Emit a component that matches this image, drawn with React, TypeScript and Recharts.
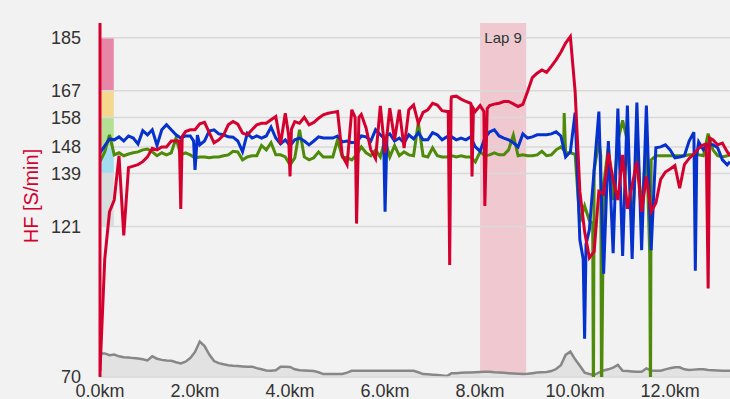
import React from "react";
import {
  ComposedChart,
  Line,
  Area,
  XAxis,
  YAxis,
  ReferenceArea,
  ReferenceLine,
  Label,
} from "recharts";

// Distance in km (regular sampling)
const km = [
  0.0, 0.1, 0.2, 0.3, 0.4, 0.5, 0.6, 0.7, 0.8, 0.9,
  1.0, 1.1, 1.2, 1.3, 1.4, 1.5, 1.6, 1.7, 1.8, 1.9,
  2.0, 2.1, 2.2, 2.3, 2.4, 2.5, 2.6, 2.7, 2.8, 2.9,
  3.0, 3.1, 3.2, 3.3, 3.4, 3.5, 3.6, 3.7, 3.8, 3.9,
  4.0, 4.1, 4.2, 4.3, 4.4, 4.5, 4.6, 4.7, 4.8, 4.9,
  5.0, 5.1, 5.2, 5.3, 5.4, 5.5, 5.6, 5.7, 5.8, 5.9,
  6.0, 6.1, 6.2, 6.3, 6.4, 6.5, 6.6, 6.7, 6.8, 6.9,
  7.0, 7.1, 7.2, 7.3, 7.4, 7.5, 7.6, 7.7, 7.8, 7.9,
  8.0, 8.1, 8.2, 8.3, 8.4, 8.5, 8.6, 8.7, 8.8, 8.9,
  9.0, 9.1, 9.2, 9.3, 9.4, 9.5, 9.6, 9.7, 9.8, 9.9,
  10.0, 10.1, 10.2, 10.3, 10.4, 10.5, 10.6, 10.7, 10.8, 10.9,
  11.0, 11.1, 11.2, 11.3, 11.4, 11.5, 11.6, 11.7, 11.8, 11.9,
  12.0, 12.1, 12.2, 12.3, 12.4, 12.5, 12.6, 12.7, 12.8, 12.9,
  13.0, 13.1, 13.2, 13.26,
];

// Heart rate (red), one value per km sample
const hfValues = [
  72, 110, 126, 130, 145, 118, 141, 141.5, 142, 143,
  144.6, 147.5, 147, 148, 148, 150, 150, 127, 153.2, 153.8,
  153.8, 155.8, 156.3, 152.8, 149.4, 150.4, 152, 155.5, 156.6, 155.7,
  152.7, 152.1, 153.8, 155.5, 156, 156, 157.2, 158.3, 149, 159.4,
  138, 156.6, 156, 158, 155.5, 156.3, 157.7, 158.9, 159.4, 159.7,
  160, 145, 142, 160.6, 122, 159, 154.4, 147, 144, 161.9,
  146, 161.1, 150.4, 160.6, 147.6, 160.6, 162.2, 156, 159.7, 160.6,
  162.8, 162.2, 160.3, 160, 165, 165.2, 164.2, 163.4, 162.8, 160,
  162, 128, 162, 162.5, 162.8, 163.4, 163.4, 162.6, 161.7, 162.4,
  166.8, 171.5, 173, 174.1, 173.3, 175.3, 177.5, 180.1, 183.2, 185.4,
  166.8, 132.9, 119.3, 110.4, 112.5, 132.9, 132, 146, 136.8, 130,
  145.3, 127, 135, 143, 126, 138, 126, 129, 137, 139.5,
  140.5, 141.7, 134, 142, 144.1, 145.6, 147.5, 148.7, 100, 150.4,
  148.7, 149.3, 146.4, 145,
];
// Extra heart-rate samples around narrow dips
const hfExtraKm = [1.67, 1.73, 3.97, 4.03, 5.37, 5.45, 7.33, 7.36, 7.39, 7.81, 7.83, 7.86, 8.08, 8.15, 12.76, 12.83];
const hfExtraValues = [150, 151.5, 152, 154, 158, 158, 160, 108, 164, 162.5, 138, 161, 160, 161, 149, 151];

// Blue series
const blueValues = [
  146, 148.4, 150.7, 150.4, 151.4, 150, 151.7, 151, 149, 153.5,
  152.1, 153.8, 148.5, 153.8, 155.5, 153.8, 152.1, 151, 151.7, 151.7,
  140.2, 148.7, 150, 153.4, 153.8, 152.4, 152.1, 151.4, 151.3, 150,
  146.4, 152.6, 151, 151.7, 151, 151.7, 154.7, 151, 149, 150.4,
  148.4, 150.4, 151, 150, 148.7, 150, 151.4, 151, 151, 151,
  151.7, 149.7, 150, 149.4, 149.7, 151.7, 151.4, 150, 153.8, 152.1,
  126, 152.4, 150, 151, 149.4, 152.1, 150.7, 152.8, 150.4, 150.4,
  152.8, 152.1, 150.4, 151.4, 151.4, 150.4, 151, 150.4, 151.4, 148,
  146.5, 151, 153.1, 153.8, 151.7, 151, 150.4, 149.4, 148, 152.4,
  151, 151.4, 152.1, 152.1, 152.1, 152.4, 153.1, 151.7, 144.6, 146.3,
  159.6, 116.5, 83, 119.9, 140, 160, 105, 150, 112, 161,
  111, 162, 110, 163, 113, 162, 113, 147.7, 148, 148.7,
  147, 144.3, 144.6, 145, 150, 153, 149.7, 147, 148.7, 148.7,
  147.7, 143.6, 141.9, 143,
];
const blueExtraKm = [1.97, 2.05, 5.97, 6.04, 10.17, 10.23, 12.53, 12.56];
const blueExtraValues = [150, 152, 151, 152, 110, 115, 106, 145];

// Green series
const greenValues = [
  143, 146.3, 152.1, 145.3, 146, 145, 145.6, 146, 146.3, 147,
  147.3, 146.3, 145, 146, 145.3, 146, 151, 145.3, 146, 145.3,
  144.3, 144.6, 144.6, 144.3, 144.6, 144.6, 145, 145.3, 146.5, 146.3,
  143.6, 144.6, 145, 145, 148.5, 147, 149.4, 145.3, 145.3, 144.6,
  141.9, 144.3, 153.8, 144.6, 143.6, 144.3, 146.3, 144.6, 144.6, 144.6,
  150.4, 144.6, 144.3, 143.6, 145.3, 148, 146, 145, 147, 144.6,
  150.4, 144.6, 148.4, 145, 146.3, 145.3, 145, 156.2, 145, 144.6,
  147.7, 145, 144.6, 144.6, 145, 144.6, 145, 144.6, 144.6, 142.9,
  146.3, 145, 145.3, 146, 145.3, 145.3, 147, 152, 145, 145.3,
  145, 145, 145.3, 146.5, 145, 145.3, 147, 148, 146, 146,
  145.5, 122.5, 128, 123, 140, 150, 135, 148, 130, 150,
  157, 150, 120, 150, 125, 150, 143.6, 145, 145, 145,
  145, 145, 145, 145, 145.3, 145.3, 145.3, 145, 152.5, 147,
  145, 144.6, 145, 145.3,
];
const greenExtraKm = [9.76, 9.77, 10.37, 10.385, 10.54, 10.555, 11.57, 11.587];
const greenExtraValues = [147, 159.5, 122, 60, 145, 60, 112, 60];

// Elevation (grey area, metres)
const elevation = [
  408, 408, 407.4, 407.6, 407, 406.7, 406.6, 406.4, 406.3, 406,
  405.6, 407, 406.2, 405.8, 405.6, 405.5, 405, 404.6, 405.2, 406.4,
  408.5, 412, 410.5, 407.6, 405.4, 404.7, 404.3, 404, 403.8, 403.7,
  403.6, 403.5, 403.5, 403, 402.6, 402.2, 402.1, 402.3, 403.5, 403.5,
  403.4, 402.6, 402.3, 402.2, 402.1, 402, 401.6, 401, 401, 401,
  401, 401, 401.5, 402.1, 402.1, 402.1, 402.1, 402.1, 402.1, 402.1,
  402.1, 402.1, 402.1, 402.1, 402.1, 402.1, 402.1, 401.6, 401, 400.9,
  400.8, 400.7, 400.5, 400.3, 401.3, 401.3, 401.4, 401.5, 401.5, 401.6,
  401.7, 401.8, 401.8, 401.6, 401.5, 401.4, 401.3, 401.2, 401.1, 401,
  401.1, 401.3, 401.5, 401.6, 401.7, 402, 402.7, 404, 407.5, 408.6,
  406, 403.8, 401.5, 401, 400.7, 401.5, 402.2, 402.6, 403.2, 404.1,
  402.1, 402, 401.9, 401.8, 401.8, 402.9, 402.2, 402.1, 402.1, 402.6,
  403, 403.3, 403.3, 402.6, 402.4, 402.5, 402.6, 402.6, 402.4, 402.3,
  402.2, 402.1, 402.1, 402.1,
];

const xTicks = [0, 2, 4, 6, 8, 10, 12];
const yTicks = [70, 121, 139, 148, 158, 167, 185];

// Heart-rate zones
const zoneLows = [167, 158, 148, 139, 121];
const zoneHighs = [185, 167, 158, 148, 139];
const zoneColors = ["#e886a8", "#f5d88c", "#b3e092", "#a2dcf0", "#d8dcdc"];

const lapStart = 8.0;
const lapEnd = 8.97;
const lapLabel = "Lap 9";

function series(values: number[], extraKm: number[] = [], extraValues: number[] = []) {
  const pts = km.map((k, i) => ({ km: k, v: values[i] }));
  extraKm.forEach((k, i) => pts.push({ km: k, v: extraValues[i] }));
  return pts.sort((a, b) => a.km - b.km);
}

const hfData = series(hfValues, hfExtraKm, hfExtraValues);
const blueData = series(blueValues, blueExtraKm, blueExtraValues);
const greenData = series(greenValues, greenExtraKm, greenExtraValues);
const elevData = series(elevation);

const FONT = '"Liberation Sans", Arial, sans-serif';
const RED = "#d3002f";

export default function App() {
  return (
    <div
      style={{
        position: "absolute",
        left: 0,
        top: 0,
        width: 730,
        height: 399,
        background: "#f2f2f2",
        fontFamily: FONT,
      }}
    >
      <ComposedChart
        width={730}
        height={399}
        data={elevData}
        margin={{ top: 23, right: 0, bottom: 0, left: 0 }}
      >
        <XAxis
          dataKey="km"
          type="number"
          domain={[0, 13.26]}
          ticks={xTicks}
          allowDataOverflow
          height={22}
          axisLine={false}
          tickLine={false}
          tickSize={0}
          tickMargin={7}
          tickFormatter={(v: number) => v.toFixed(1) + "km"}
          tick={{ fontSize: 18, fill: "#333", fontFamily: FONT }}
        />
        <YAxis
          yAxisId="hf"
          type="number"
          domain={[70, 190]}
          ticks={yTicks}
          allowDataOverflow
          width={100}
          tickLine={false}
          tickSize={0}
          tickMargin={19}
          axisLine={{ stroke: RED, strokeWidth: 3 }}
          tick={{ fontSize: 18, fill: "#333", fontFamily: FONT }}
        >
          <Label
            content={() => (
              <text
                x={31}
                y={196}
                transform="rotate(-90 31 196)"
                textAnchor="middle"
                dominantBaseline="central"
                fill={RED}
                fontSize={20}
                fontFamily={FONT}
              >
                HF [S/min]
              </text>
            )}
          />
        </YAxis>
        <YAxis yAxisId="elev" orientation="right" type="number" domain={[400, 520]} width={0} hide />
        {yTicks.map((t) => (
          <ReferenceLine
            key={"grid" + t}
            yAxisId="hf"
            y={t}
            stroke="#d9d9d9"
            strokeWidth={1.5}
          />
        ))}
        {zoneLows.map((lo, i) => (
          <ReferenceArea
            key={"zone" + i}
            yAxisId="hf"
            x1={0}
            x2={0.29}
            y1={lo}
            y2={zoneHighs[i]}
            fill={zoneColors[i]}
            fillOpacity={1}
            stroke="none"
          />
        ))}
        <ReferenceArea
          yAxisId="hf"
          x1={lapStart}
          x2={lapEnd}
          fill="#efc8d0"
          fillOpacity={1}
          stroke="none"
          label={{
            value: lapLabel,
            position: "insideTop",
            offset: 9,
            fill: "#333",
            fontSize: 15,
            fontFamily: FONT,
          }}
        />
        <Area
          yAxisId="elev"
          type="linear"
          dataKey="v"
          stroke="#878787"
          strokeWidth={2.5}
          fill="#e2e2e2"
          fillOpacity={1}
          isAnimationActive={false}
          dot={false}
          activeDot={false}
        />
        <Line
          yAxisId="hf"
          data={greenData}
          type="linear"
          dataKey="v"
          stroke="#4f8a0b"
          strokeWidth={3}
          dot={false}
          activeDot={false}
          isAnimationActive={false}
        />
        <Line
          yAxisId="hf"
          data={blueData}
          type="linear"
          dataKey="v"
          stroke="#0531cc"
          strokeWidth={3}
          dot={false}
          activeDot={false}
          isAnimationActive={false}
        />
        <Line
          yAxisId="hf"
          data={hfData}
          type="linear"
          dataKey="v"
          stroke={RED}
          strokeWidth={3}
          dot={false}
          activeDot={false}
          isAnimationActive={false}
        />
      </ComposedChart>
    </div>
  );
}
